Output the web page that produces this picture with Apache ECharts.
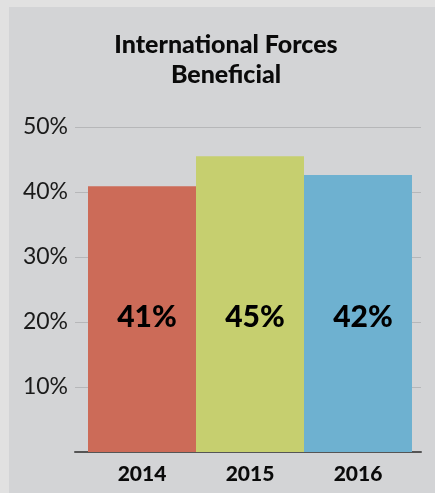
<!DOCTYPE html>
<html>
<head>
<meta charset="utf-8">
<script src="https://cdn.jsdelivr.net/npm/echarts@6/dist/echarts.min.js"></script>
<style>
	html, body { margin: 0; padding: 0; background: #e1e1e1; }
	#chart { width: 435px; height: 493px; }
</style>
</head>
<body>
<div id="chart"></div>
<script>
// data
const years = ['2014', '2015', '2016'];
const shares = [40.9, 45.5, 42.6];
const shareLabels = ['41%', '45%', '42%'];
const barColors = ['#cc6b58', '#c6cf6f', '#6eb1d0'];
const yTicks = [0, 10, 20, 30, 40, 50];

const FONT = 'Lato';

const chart = echarts.init(document.getElementById('chart'));
chart.setOption({
	backgroundColor: '#e1e1e1',
	animation: false,
	graphic: [
		{
			type: 'rect',
			left: 9,
			top: 7,
			shape: { width: 426, height: 486 },
			style: { fill: '#d3d4d6' },
			z: -10,
		},
	],
	title: {
		text: 'International Forces\nBeneficial',
		left: 221,
		textAlign: 'center',
		top: 25,
		textStyle: {
			fontFamily: FONT,
			fontWeight: 900,
			fontSize: 25,
			lineHeight: 30,
			color: '#0a0a0a',
		},
	},
	grid: [
		// bars
		{ left: 88, right: 23, top: 127, bottom: 41 },
		// grid lines + axis line (a bit wider than the bars)
		{ left: 75, right: 14, top: 127, bottom: 41 },
	],
	xAxis: [
		{
			type: 'category',
			gridIndex: 0,
			data: years,
			axisLine: { show: false },
			axisTick: { show: false },
			axisLabel: {
				margin: 12,
				fontFamily: FONT,
				fontWeight: 900,
				fontSize: 21,
				color: '#0a0a0a',
			},
		},
		{
			type: 'category',
			gridIndex: 1,
			data: years.map(() => ''),
			axisLine: { lineStyle: { color: '#555', width: 2 } },
			axisTick: { show: false },
			axisLabel: { show: false },
		},
	],
	yAxis: [
		{
			type: 'value',
			gridIndex: 0,
			min: yTicks[0],
			max: yTicks[yTicks.length - 1],
			interval: 10,
			show: false,
		},
		{
			type: 'value',
			gridIndex: 1,
			min: yTicks[0],
			max: yTicks[yTicks.length - 1],
			interval: 10,
			axisLine: { show: false },
			axisTick: { show: false },
			splitLine: { lineStyle: { color: '#b6b7b9', width: 1 } },
			axisLabel: {
				margin: 7,
				fontFamily: FONT,
				fontSize: 23,
				color: '#1a1a1a',
				formatter: function (v) {
					return v === 0 ? '' : v + '%';
				},
			},
		},
	],
	series: [
		{
			type: 'bar',
			xAxisIndex: 0,
			yAxisIndex: 0,
			barWidth: '100%',
			data: shares.map((v, i) => ({
				value: v,
				itemStyle: { color: barColors[i] },
				label: { formatter: shareLabels[i] },
			})),
			label: {
				show: true,
				position: 'insideBottom',
				distance: 120,
				offset: [5, 0],
				fontFamily: FONT,
				fontWeight: 900,
				fontSize: 30,
				color: '#000',
			},
			z: 3,
		},
	],
});
</script>
</body>
</html>
